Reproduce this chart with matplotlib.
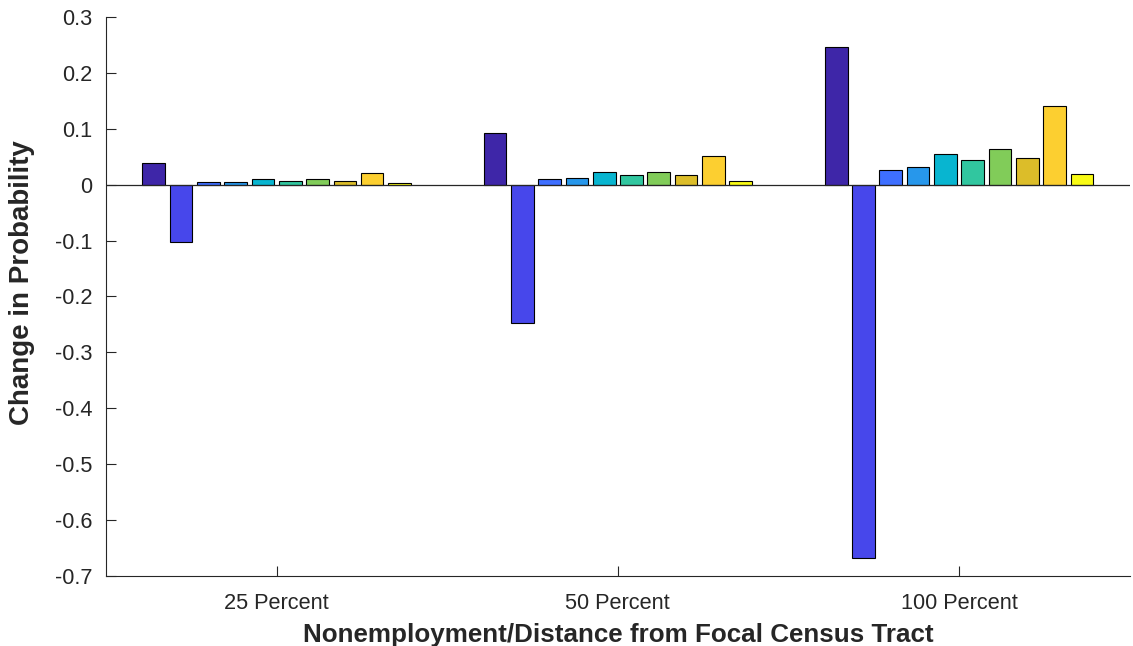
import numpy as np
import matplotlib.pyplot as plt

plt.rcParams['font.family'] = ['Liberation Sans', 'DejaVu Sans']

# Groups and values (change in probability)
groups = ['25 Percent', '50 Percent', '100 Percent']
values = np.array([
    [0.038, -0.103, 0.004, 0.004, 0.0095, 0.0066, 0.0095, 0.0066, 0.021, 0.003],
    [0.092, -0.247, 0.010, 0.012, 0.022, 0.0167, 0.023, 0.018, 0.0506, 0.0065],
    [0.2456, -0.667, 0.0256, 0.031, 0.0548, 0.045, 0.063, 0.047, 0.140, 0.0184],
])

# parula(10)
bar_colors = [
    (0.2422, 0.1504, 0.6603),
    (0.2803, 0.2782, 0.9221),
    (0.2440, 0.4358, 0.9988),
    (0.1540, 0.5902, 0.9218),
    (0.0297, 0.7082, 0.8163),
    (0.1938, 0.7758, 0.6251),
    (0.5044, 0.7993, 0.3480),
    (0.8634, 0.7406, 0.1596),
    (0.9892, 0.8136, 0.1885),
    (0.9769, 0.9839, 0.0805),
]

fig = plt.figure(figsize=(11.33, 6.46), dpi=100)
ax = fig.add_axes([0.0936, 0.1084, 0.9034, 0.8653])

n_groups, n_bars = values.shape
x = np.arange(1, n_groups + 1)
slot = 0.8 / n_bars
width = slot * 0.83
for j in range(n_bars):
    offs = -0.4 + slot / 2 + j * slot
    ax.bar(x + offs, values[:, j], width=width, color=bar_colors[j],
           edgecolor='black', linewidth=0.8, zorder=3)

ax.axhline(0, color='#262626', linewidth=0.9, zorder=4)

ax.set_xlim(0.5, 3.5)
ax.set_ylim(-0.7, 0.3)
ax.set_xticks(x)
ax.set_xticklabels(groups)
yt = np.round(np.arange(-0.7, 0.31, 0.1), 1)
ax.set_yticks(yt)
ax.set_yticklabels(['0' if abs(v) < 1e-9 else f'{v:g}' for v in yt])

for s in ['top', 'right']:
    ax.spines[s].set_visible(False)
for s in ['left', 'bottom']:
    ax.spines[s].set_color('#262626')
    ax.spines[s].set_linewidth(0.8)

ax.tick_params(direction='in', length=7, width=0.8, colors='#262626',
               labelsize=15.7, labelcolor='#262626')
ax.tick_params(axis='x', pad=12)
ax.tick_params(axis='y', pad=10)

ax.set_xlabel('Nonemployment/Distance from Focal Census Tract',
              fontsize=18.7, fontweight='bold', color='#262626', labelpad=7)
ax.set_ylabel('Change in Probability', fontsize=20, fontweight='bold',
              color='#262626')
ax.yaxis.set_label_coords(-0.0694, 0.524)

fig.savefig('out.png', dpi=100)
